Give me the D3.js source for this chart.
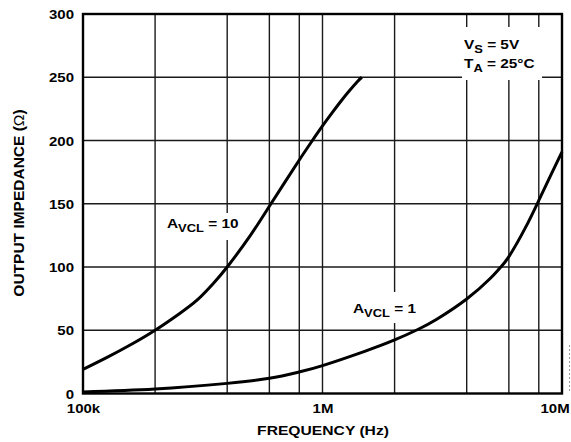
<!DOCTYPE html>
<html>
<head>
<meta charset="utf-8">
<script src="https://cdn.jsdelivr.net/npm/d3@7"></script>
<style>
  html, body { margin: 0; padding: 0; background: #fff; }
  svg { display: block; }
  text { font-family: "Liberation Sans", Arial, Helvetica, sans-serif; font-weight: bold; fill: #000; }
</style>
</head>
<body>
<svg id="chart" width="571" height="442"></svg>
<script>
// ---- data ----
const avcl10Freq = [100e3, 126e3, 158e3, 200e3, 250e3, 300e3, 350e3, 400e3, 500e3, 600e3, 700e3, 800e3, 900e3, 1e6, 1.1e6, 1.2e6, 1.3e6, 1.4e6, 1.46e6];
const avcl10Z    = [19, 28.5, 38.5, 50, 62.5, 74, 87, 100, 125, 148, 167.7, 184.6, 199, 211.5, 222.2, 231.6, 239.7, 246.7, 250];
const avcl1Freq  = [100e3, 200e3, 400e3, 600e3, 800e3, 1e6, 1.5e6, 2e6, 2.5e6, 3e6, 4e6, 5e6, 5.5e6, 6e6, 7e6, 8e6, 9e6, 10e6];
const avcl1Z     = [1.2, 3.5, 8, 12, 17, 22, 33.3, 42.3, 50.6, 58.7, 74.7, 90.7, 99.1, 108.2, 130.3, 152.6, 173, 191];
const yTicks = [0, 50, 100, 150, 200, 250, 300];
const xTickValues = [1e5, 1e6, 1e7];
const xTickLabels = ["100k", "1M", "10M"];
const xGrid = [2e5, 4e5, 6e5, 8e5, 1e6, 2e6, 4e6, 6e6, 8e6];
const yGrid = [50, 100, 150, 200, 250];

// ---- layout ----
const pL = 83, pR = 562, pT = 14, pB = 393.5;
const SX = 1.2; // horizontal glyph stretch seen in the reference
const svg = d3.select("#chart");
const x = d3.scaleLog().domain([1e5, 1e7]).range([pL, pR]);
const y = d3.scaleLinear().domain([0, 300]).range([pB, pT]);

// grid
const grid = svg.append("g").attr("stroke", "#1a1a1a").attr("stroke-width", 1.4);
grid.selectAll("line.v").data(xGrid).enter().append("line")
  .attr("x1", d => x(d)).attr("x2", d => x(d)).attr("y1", pT).attr("y2", pB);
grid.selectAll("line.h").data(yGrid).enter().append("line")
  .attr("x1", pL).attr("x2", pR).attr("y1", d => y(d)).attr("y2", d => y(d));

// white label boxes
const boxes = [
  {x0: 462, y0: 27, x1: 542, y1: 80},
  {x0: 161, y0: 213, x1: 245, y1: 240},
  {x0: 348, y0: 292, x1: 422, y1: 323}
];
svg.selectAll("rect.box").data(boxes).enter().append("rect")
  .attr("x", d => d.x0).attr("y", d => d.y0)
  .attr("width", d => d.x1 - d.x0).attr("height", d => d.y1 - d.y0)
  .attr("fill", "#fff");

// frame
svg.append("rect").attr("x", pL).attr("y", pT)
  .attr("width", pR - pL).attr("height", pB - pT)
  .attr("fill", "none").attr("stroke", "#000").attr("stroke-width", 2.4);

// curves
const line = d3.line().x(d => x(d[0])).y(d => y(d[1])).curve(d3.curveNatural);
svg.append("path").datum(avcl10Freq.map((f, i) => [f, avcl10Z[i]]))
  .attr("d", line).attr("fill", "none").attr("stroke", "#000").attr("stroke-width", 3);
svg.append("path").datum(avcl1Freq.map((f, i) => [f, avcl1Z[i]]))
  .attr("d", line).attr("fill", "none").attr("stroke", "#000").attr("stroke-width", 3);

// axes
const yAxis = d3.axisLeft(y).tickValues(yTicks).tickSize(0).tickPadding(9);
const ga = svg.append("g").attr("transform", `translate(${pL},0)`).call(yAxis);
ga.select(".domain").remove();
ga.selectAll("text").style("font-size", "12.5px").attr("dy", "0.36em")
  .attr("x", -9 / SX).attr("transform", `scale(${SX},1)`);

const xAxis = d3.axisBottom(x).tickValues(xTickValues).tickFormat((d, i) => xTickLabels[i]).tickSize(0);
const gx = svg.append("g").attr("transform", `translate(0,${pB})`).call(xAxis);
gx.select(".domain").remove();
gx.selectAll("text").style("font-size", "12.5px").attr("y", 19.5).attr("dy", 0)
  .attr("transform", `scale(${SX},1)`);
gx.selectAll("text").filter((d, i) => i === 2).attr("x", -7.4 / SX);

// text helper with horizontal stretch
function stretched(xp, yp, size, anchor, sx) {
  return svg.append("g").attr("transform", `translate(${xp},${yp}) scale(${sx},1)`)
    .append("text").attr("text-anchor", anchor).style("font-size", size + "px");
}
stretched(323, 434.5, 13.5, "middle", 1.16).text("FREQUENCY (Hz)");

const yt = svg.append("text").attr("transform", "translate(24,203) rotate(-90)")
  .attr("text-anchor", "middle").style("font-size", "15.5px");
yt.append("tspan").text("OUTPUT IMPEDANCE (");
yt.append("tspan").style("font-weight", "normal").text("Ω");
yt.append("tspan").text(")");

// annotation helper
function sub(xp, yp, main, subs, rest) {
  const t = stretched(xp, yp, 12.5, "start", 1.23);
  t.append("tspan").text(main);
  t.append("tspan").attr("dy", 4).style("font-size", "10.5px").text(subs);
  t.append("tspan").attr("dy", -4).text(rest);
}
sub(464, 48.5, "V", "S", " = 5V");
sub(464, 68, "T", "A", " = 25°C");
sub(167, 228, "A", "VCL", " = 10");
sub(353, 312.7, "A", "VCL", " = 1");

// faint dotted mark at right edge
svg.append("line").attr("x1", 569.5).attr("x2", 569.5).attr("y1", 345).attr("y2", 393)
  .attr("stroke", "#999").attr("stroke-width", 1).attr("stroke-dasharray", "2,2");
</script>
</body>
</html>
